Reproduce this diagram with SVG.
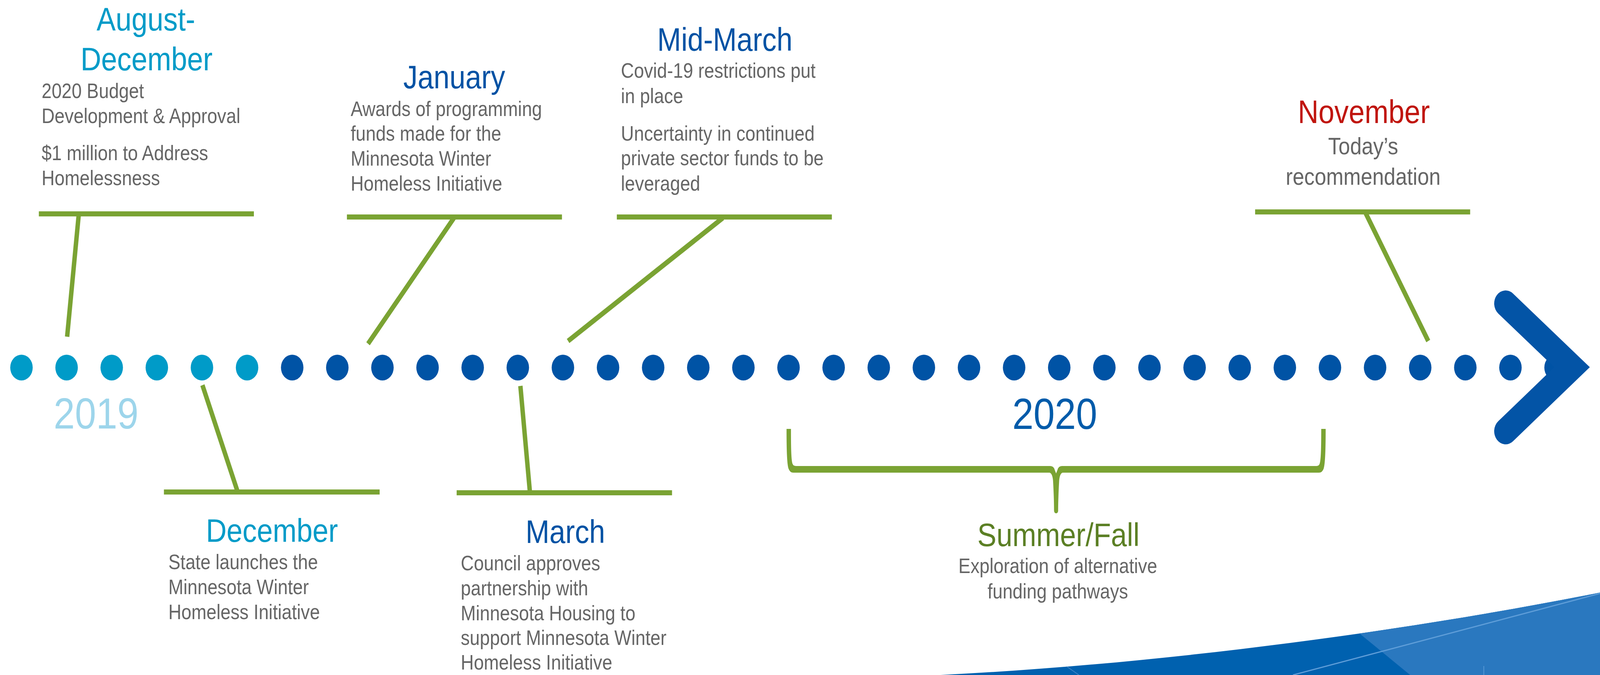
<svg xmlns="http://www.w3.org/2000/svg" width="4695" height="1728" viewBox="0 0 4695 1728" preserveAspectRatio="none" style="width:100vw;height:100vh">
<defs>
<style>
text{font-family:"Liberation Sans",Arial,sans-serif;}
.title{font-size:84px;text-anchor:middle;}
.body{font-size:53px;fill:#666666;}
.bodyc{font-size:53px;fill:#666666;text-anchor:middle;}
.light{fill:#009BC8;}
.dark{fill:#0052A4;}
.bar{fill:#7AA333;}
.conn{stroke:#7AA333;stroke-width:13;fill:none;stroke-linecap:butt;}
.dl{fill:#009BC8;}
.dd{fill:#0053A5;}
.year{font-size:112px;text-anchor:middle;}
</style>
<clipPath id="swooshClip">
<path d="M2760,1728 C3400,1700 4100,1620 4695,1517 L4695,1728 Z"/>
</clipPath>
</defs>
<rect width="4695" height="1728" fill="#FFFFFF"/>

<g id="swoosh">
<path d="M2760,1728 C3400,1700 4100,1620 4695,1517 L4695,1728 Z" fill="#0061AF"/>
<g clip-path="url(#swooshClip)">
<polygon points="3819,1500 4695,1500 4695,1728 4138,1728" fill="#2A78BF"/>
<line x1="3794" y1="1728" x2="4700" y2="1518" stroke="#5E9DD8" stroke-width="3"/>
<line x1="3120" y1="1700" x2="3166" y2="1728" stroke="#3F86C8" stroke-width="2"/>
<line x1="4354" y1="1705" x2="4354" y2="1728" stroke="#5E9DD8" stroke-width="2"/>
</g>
</g>

<g id="timeline">
<circle class="dl" cx="63" cy="941" r="33"/>
<circle class="dl" cx="195.4" cy="941" r="33"/>
<circle class="dl" cx="327.8" cy="941" r="33"/>
<circle class="dl" cx="460.2" cy="941" r="33"/>
<circle class="dl" cx="592.6" cy="941" r="33"/>
<circle class="dl" cx="725" cy="941" r="33"/>
<circle class="dd" cx="857.4" cy="941" r="33"/>
<circle class="dd" cx="989.8" cy="941" r="33"/>
<circle class="dd" cx="1122.2" cy="941" r="33"/>
<circle class="dd" cx="1254.6" cy="941" r="33"/>
<circle class="dd" cx="1387" cy="941" r="33"/>
<circle class="dd" cx="1519.4" cy="941" r="33"/>
<circle class="dd" cx="1651.8" cy="941" r="33"/>
<circle class="dd" cx="1784.2" cy="941" r="33"/>
<circle class="dd" cx="1916.6" cy="941" r="33"/>
<circle class="dd" cx="2049" cy="941" r="33"/>
<circle class="dd" cx="2181.4" cy="941" r="33"/>
<circle class="dd" cx="2313.8" cy="941" r="33"/>
<circle class="dd" cx="2446.2" cy="941" r="33"/>
<circle class="dd" cx="2578.6" cy="941" r="33"/>
<circle class="dd" cx="2711" cy="941" r="33"/>
<circle class="dd" cx="2843.4" cy="941" r="33"/>
<circle class="dd" cx="2975.8" cy="941" r="33"/>
<circle class="dd" cx="3108.2" cy="941" r="33"/>
<circle class="dd" cx="3240.6" cy="941" r="33"/>
<circle class="dd" cx="3373" cy="941" r="33"/>
<circle class="dd" cx="3505.4" cy="941" r="33"/>
<circle class="dd" cx="3637.8" cy="941" r="33"/>
<circle class="dd" cx="3770.2" cy="941" r="33"/>
<circle class="dd" cx="3902.6" cy="941" r="33"/>
<circle class="dd" cx="4035" cy="941" r="33"/>
<circle class="dd" cx="4167.4" cy="941" r="33"/>
<circle class="dd" cx="4299.8" cy="941" r="33"/>
<circle class="dd" cx="4432.2" cy="941" r="33"/>
<circle class="dd" cx="4564.6" cy="941" r="33"/>
<path id="arrowhead" d="M4418,777 L4613,940 L4418,1104" fill="none" stroke="#0354A6" stroke-width="67" stroke-linecap="round" stroke-linejoin="miter" stroke-miterlimit="4"/>
</g>

<g id="years">
<text class="year" x="282" y="1097" fill="#9DD5EB">2019</text>
<text class="year" x="3095" y="1098" fill="#005BAA">2020</text>
</g>

<g id="connectors">
<line class="conn" x1="231" y1="550" x2="197" y2="862"/>
<line class="conn" x1="1332" y1="558" x2="1080" y2="880"/>
<line class="conn" x1="2121" y1="558" x2="1667" y2="873"/>
<line class="conn" x1="4007" y1="545" x2="4191" y2="873"/>
<line class="conn" x1="594" y1="986" x2="697" y2="1258"/>
<line class="conn" x1="1527" y1="988" x2="1555" y2="1260"/>
<path id="brace" fill="#7AA333" d="M2308,1098 L2321,1098 C2321,1150 2322,1180 2326,1188 Q2328,1193 2336,1193 L3082,1193 Q3092,1193 3095,1203 L3099,1212 L3103,1203 Q3106,1193 3116,1193 L3862,1193 Q3870,1193 3872,1188 C3876,1180 3877,1150 3877,1098 L3890,1098 C3890,1160 3888,1190 3884,1200 Q3880,1210 3870,1210 L3118,1210 Q3110,1212 3108,1230 C3106,1260 3105,1290 3105,1308 Q3104,1314 3099,1314 Q3094,1314 3093,1308 C3093,1290 3092,1260 3090,1230 Q3088,1212 3080,1210 L2328,1210 Q2318,1210 2314,1200 C2310,1190 2308,1160 2308,1098 Z"/>
</g>

<g id="node-aug-dec">
<text class="title light" x="428" y="78">August-</text>
<text class="title light" x="430" y="180">December</text>
<text class="body" x="122" y="251">2020 Budget</text>
<text class="body" x="122" y="315">Development &amp; Approval</text>
<text class="body" x="122" y="410">$1 million to Address</text>
<text class="body" x="122" y="474">Homelessness</text>
<rect class="bar" x="114" y="541" width="631" height="13"/>
</g>

<g id="node-january">
<text class="title dark" x="1333" y="226">January</text>
<text class="body" x="1029" y="297">Awards of programming</text>
<text class="body" x="1029" y="360">funds made for the</text>
<text class="body" x="1029" y="424">Minnesota Winter</text>
<text class="body" x="1029" y="488">Homeless Initiative</text>
<rect class="bar" x="1018" y="549" width="631" height="13"/>
</g>

<g id="node-mid-march">
<text class="title dark" x="2127" y="130">Mid-March</text>
<text class="body" x="1822" y="199">Covid-19 restrictions put</text>
<text class="body" x="1822" y="264">in place</text>
<text class="body" x="1822" y="360">Uncertainty in continued</text>
<text class="body" x="1822" y="423">private sector funds to be</text>
<text class="body" x="1822" y="488">leveraged</text>
<rect class="bar" x="1810" y="549" width="631" height="13"/>
</g>

<g id="node-november">
<text class="title" x="4002" y="315" fill="#C0150E">November</text>
<text class="bodyc" x="4000" y="395" style="font-size:61px">Today’s</text>
<text class="bodyc" x="4000" y="473" style="font-size:61px">recommendation</text>
<rect class="bar" x="3683" y="536" width="631" height="13"/>
</g>

<g id="node-december">
<rect class="bar" x="481" y="1253" width="633" height="13"/>
<text class="title light" x="798" y="1387">December</text>
<text class="body" x="494" y="1457">State launches the</text>
<text class="body" x="494" y="1521">Minnesota Winter</text>
<text class="body" x="494" y="1585">Homeless Initiative</text>
</g>

<g id="node-march">
<rect class="bar" x="1340" y="1255" width="632" height="13"/>
<text class="title dark" x="1659" y="1390">March</text>
<text class="body" x="1352" y="1460">Council approves</text>
<text class="body" x="1352" y="1524">partnership with</text>
<text class="body" x="1352" y="1588">Minnesota Housing to</text>
<text class="body" x="1352" y="1651">support Minnesota Winter</text>
<text class="body" x="1352" y="1714">Homeless Initiative</text>
</g>

<g id="node-summer-fall">
<text class="title" x="3106" y="1398" fill="#5B7F24">Summer/Fall</text>
<text class="bodyc" x="3104" y="1467">Exploration of alternative</text>
<text class="bodyc" x="3104" y="1532">funding pathways</text>
</g>
</svg>
